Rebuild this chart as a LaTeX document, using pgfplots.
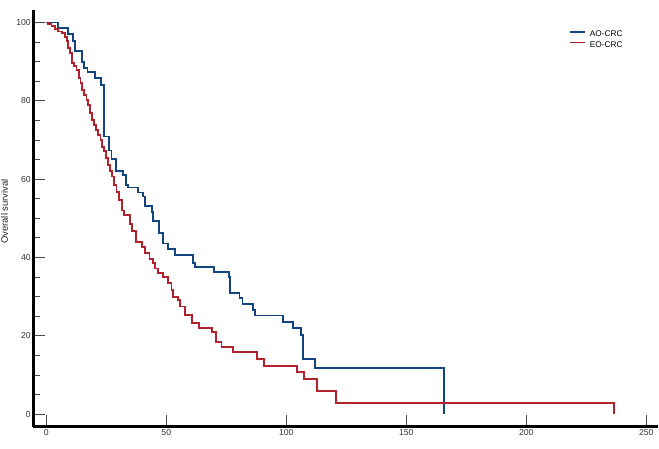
\documentclass[border=0pt]{standalone}
\usepackage{pgfplots}
\pgfplotsset{compat=1.18}
\usepackage{fontspec}
\setmainfont{Liberation Sans}
\definecolor{aoblue}{RGB}{18,68,128}
\definecolor{eored}{RGB}{178,34,44}
\definecolor{tickgray}{RGB}{70,70,70}
\begin{document}
\begin{tikzpicture}
\begin{axis}[
  scale only axis,
  width=625bp, height=416.7bp,
  xmin=-5.4, xmax=255, ymin=-3.2, ymax=103.2,
  axis x line*=bottom, axis y line*=left,
  axis line style={black, line width=2.4bp},
  xtick={0,50,100,150,200,250},
  ytick={0,20,40,60,80,100},
  minor y tick num=3,
  tick align=inside,
  major tick length=11.5bp,
  minor tick length=6.5bp,
  tick style={tickgray, line width=1bp},
  /pgf/number format/assume math mode=true,
  tick label style={font=\fontsize{8.7}{9}\selectfont, text=black!80},
  yticklabel style={xshift=1bp},
  xticklabel style={yshift=1bp},
  legend style={at={(rel axis cs:0.857,0.952)}, anchor=north west, draw=none, fill=none,
    inner sep=0pt, row sep=1.4bp, column sep=3bp,
    font=\fontsize{8.3}{9}\selectfont, nodes={inner sep=1bp}},
  legend cell align=left,
  legend image code/.code={\draw[#1] (0bp,3bp) -- (15bp,3bp);},
]
\addplot[const plot, aoblue, line width=1.8bp] coordinates {
(0,100) (5.0,98.6) (9.2,97.0) (11.0,95.3) (12.0,92.8) (14.9,90.0) (15.8,88.3)
(17.2,87.3) (20.3,85.8) (22.8,84.1) (24.0,70.9) (26.2,67.3) (27.2,65.1)
(29.0,62.0) (32.0,61.1) (33.2,58.5) (34.2,57.9) (38.1,56.6) (40.2,55.6)
(41.1,53.2) (43.9,51.7) (44.6,49.4) (47.1,46.2) (48.75,43.6) (50.8,42.1)
(53.6,40.7) (61.0,38.7) (62.1,37.5) (69.9,36.4) (76.0,35.0) (76.7,31.0)
(80.5,29.6) (81.8,28.1) (86.0,26.6) (87.0,25.2) (98.75,23.6) (102.7,21.9)
(106.0,20.2) (106.8,14.1) (111.8,11.7) (165.8,11.7) (165.8,0)
};
\addlegendentry{AO-CRC}
\addplot[const plot, eored, line width=1.8bp] coordinates {
(0,100) (0.8,99.7) (2.2,99.2) (3.6,98.3) (5.0,97.7) (6.4,97.3) (7.8,96.4)
(8.5,95.2) (9.2,93.4) (9.9,92.2) (10.6,89.6) (11.5,88.8) (12.6,87.9)
(13.6,85.8) (14.3,84.5) (15.0,82.8) (15.8,81.5) (16.8,80.2) (17.5,79.0)
(18.2,76.8) (19.0,75.2) (19.9,73.9) (20.7,72.6) (21.7,71.3) (22.6,70.0)
(23.3,68.3) (24.0,67.1) (24.9,65.4) (25.8,63.7) (26.5,62.0) (27.5,60.7)
(28.3,58.5) (29.3,56.8) (30.3,54.7) (31.4,52.0) (32.4,50.9) (34.9,48.6)
(35.8,46.8) (37.4,44.0) (39.9,42.6) (41.0,41.1) (43.0,39.6) (44.5,38.5)
(45.3,37.2) (46.7,36.0) (48.75,35.1) (50.8,33.4) (52.2,31.7) (52.9,30.0)
(55.0,29.2) (55.7,27.5) (57.8,25.3) (60.6,23.2) (63.75,21.9) (68.9,20.9)
(70.8,18.5) (73.0,17.2) (77.9,15.9) (87.7,14.1) (90.7,12.4) (104.5,10.7)
(107.5,8.9) (112.8,6.0) (120.7,2.9) (236.5,2.9) (236.5,0)
};
\addlegendentry{EO-CRC}
\node[font=\fontsize{7.5}{8}\selectfont, text=black!85] at (rel axis cs:0.4955,1) [yshift=5.5bp] {ECOG-PS 0};
\node[font=\fontsize{8}{9}\selectfont, text=black!85, inner sep=0pt] at (rel axis cs:0.5,0) [yshift=-17.8bp] {Months};
\end{axis}
\node[font=\fontsize{9.5}{10}\selectfont, text=black!85, rotate=90] at (-28.8bp,215.2bp) {Overall survival};
\pgfresetboundingbox
\useasboundingbox (-33.3bp,-22.3bp) rectangle (625.7bp,426.7bp);
\end{tikzpicture}
\end{document}
